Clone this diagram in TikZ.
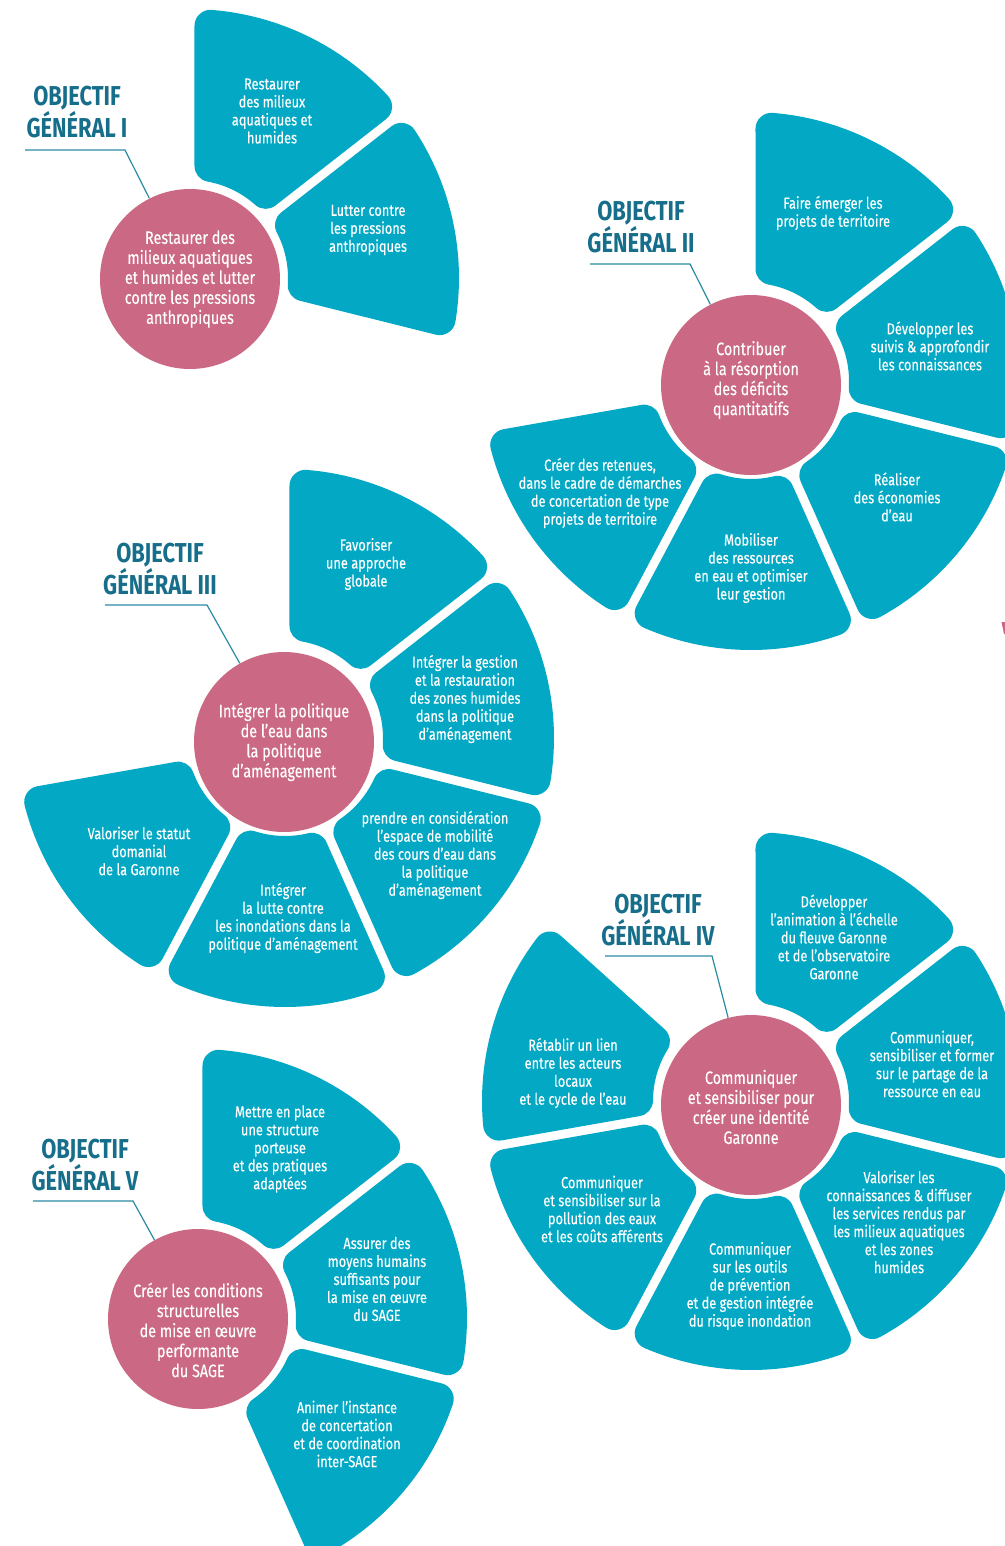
\documentclass[tikz,border=0pt]{standalone}
\usepackage{fontspec}
\setmainfont{Fira Sans}[FakeStretch=0.8,UprightFeatures={FakeBold=0.25}]
\usetikzlibrary{positioning}
\definecolor{petalblue}{RGB}{3,168,196}
\definecolor{discpink}{RGB}{203,104,131}
\definecolor{goalblue}{RGB}{22,110,138}
\definecolor{leaderblue}{RGB}{40,138,163}

% annular petal around a disc: centre, start angle, end angle
\newcommand{\petal}[3]{%
  \pgfmathsetmacro{\rin}{114}%
  \pgfmathsetmacro{\rout}{253}%
  \pgfmathsetmacro{\din}{asin(20.5/\rin)}%
  \pgfmathsetmacro{\dout}{asin(20.5/\rout)}%
  \filldraw[petal,shift={(#1)}] ({#2-\din}:\rin) -- ({#2-\dout}:\rout)
    arc[start angle={#2-\dout}, end angle={#3+\dout}, radius=\rout*0.75pt]
    -- ({#3+\din}:\rin)
    arc[start angle={#3+\din}, end angle={#2-\din}, radius=\rin*0.75pt] -- cycle;
}

\begin{document}
\begin{tikzpicture}[x=0.75pt,y=0.75pt,
  petal/.style={fill=petalblue,draw=petalblue,line width=24pt,line join=round},
  disc/.style={circle,fill=discpink,minimum size=135pt,inner sep=0pt},
  disctext/.style={text=white,align=center,font=\fontsize{13.5}{15}\selectfont},
  leaf/.style={text=white,align=center,font=\fontsize{12}{13.5}\selectfont},
  goal/.style={text=goalblue,align=center,font=\fontsize{20.5}{21}\bfseries},
  leader/.style={leaderblue,line width=0.9pt}]
\useasboundingbox (0,0) rectangle (1005,-1546);
\clip (0,0) rectangle (1005,-1546);

\node[disc] (c1) at (190,-279) {};
\node[disc] (c2) at (751,-385) {};
\node[disc] (c3) at (284,-742) {};
\node[disc] (c4) at (751,-1105) {};
\node[disc] (c5) at (198,-1319) {};

% ring centres of the petals
\coordinate (r1) at (190,-278);
\coordinate (r2) at (751,-381);
\coordinate (r3) at (285,-738);
\coordinate (r4) at (751,-1101);
\coordinate (r5) at (198,-1318);

\foreach \a/\b in {90/38,38/-14}
  \petal{r1}{\a}{\b};
\foreach \a/\b in {90/38,38/-14,-14/-66,-66/-118,-118/-170}
  \petal{r2}{\a}{\b};
\foreach \a/\b in {90/38,38/-14,-14/-66,-66/-118,-118/-170}
  \petal{r3}{\a}{\b};
\foreach \a/\b in {90/38,38/-14,-14/-66,-66/-118,-118/-170,-170/-222}
  \petal{r4}{\a}{\b};
\foreach \a/\b in {90/38,38/-14,-14/-66}
  \petal{r5}{\a}{\b};

\node[disctext] (d1) at (190,-279) {Restaurer des\\milieux aquatiques\\et humides et lutter\\contre les pressions\\anthropiques};
\node[disctext] (d2) at (751,-380) {Contribuer\\à la résorption\\des déficits\\quantitatifs};
\node[disctext] (d3) at (284,-742) {Intégrer la politique\\de l’eau dans\\la politique\\d’aménagement};
\node[disctext] (d4) at (751,-1107) {Communiquer\\et sensibiliser pour\\créer une identité\\Garonne};
\node[disctext] (d5) at (198,-1330) {Créer les conditions\\structurelles\\de mise en œuvre\\performante\\du SAGE};

\node[leaf] (p11) at (272,-111) {Restaurer\\des milieux\\aquatiques et\\humides};
\node[leaf] (p12) at (368,-230) {Lutter contre\\les pressions\\anthropiques};

\node[leaf] (p21) at (833,-213) {Faire émerger les\\projets de territoire};
\node[leaf] (p22) at (930,-346) {Développer les\\suivis \& approfondir\\les connaissances};
\node[leaf] (p23) at (897,-497) {Réaliser\\des économies\\d’eau};
\node[leaf] (p24) at (751,-568) {Mobiliser\\des ressources\\en eau et optimiser\\leur gestion};
\node[leaf] (p25) at (600,-493) {Créer des retenues,\\dans le cadre de démarches\\de concertation de type\\projets de territoire};

\node[leaf] (p31) at (366,-564) {Favoriser\\une approche\\globale};
\node[leaf] (p32) at (465,-699) {Intégrer la gestion\\et la restauration\\des zones humides\\dans la politique\\d’aménagement};
\node[leaf] (p33) at (435,-855) {prendre en considération\\l’espace de mobilité\\des cours d’eau dans\\la politique\\d’aménagement};
\node[leaf] (p34) at (283,-918) {Intégrer\\la lutte contre\\les inondations dans la\\politique d’aménagement};
\node[leaf] (p35) at (139,-851) {Valoriser le statut\\domanial\\de la Garonne};

\node[leaf] (p41) at (834,-937) {Développer\\l’animation à l’échelle\\du fleuve Garonne\\et de l’observatoire\\Garonne};
\node[leaf] (p42) at (932,-1064) {Communiquer,\\sensibiliser et former\\sur le partage de la\\ressource en eau};
\node[leaf] (p43) at (899,-1222) {Valoriser les\\connaissances \& diffuser\\les services rendus par\\les milieux aquatiques\\et les zones\\humides};
\node[leaf] (p44) at (750,-1286) {Communiquer\\sur les outils\\de prévention\\et de gestion intégrée\\du risque inondation};
\node[leaf] (p45) at (602,-1209) {Communiquer\\et sensibiliser sur la\\pollution des eaux\\et les coûts afférents};
\node[leaf] (p46) at (573,-1073) {Rétablir un lien\\entre les acteurs\\locaux\\et le cycle de l’eau};

\node[leaf] (p51) at (280,-1149) {Mettre en place\\une structure\\porteuse\\et des pratiques\\adaptées};
\node[leaf] (p52) at (377,-1279) {Assurer des\\moyens humains\\suffisants pour\\la mise en œuvre\\du SAGE};
\node[leaf] (p53) at (347,-1434) {Animer l’instance\\de concertation\\et de coordination\\inter-SAGE};

\node[goal] (g1) at (77,-112) {OBJECTIF\\GÉNÉRAL I};
\node[goal] (g2) at (641,-227) {OBJECTIF\\GÉNÉRAL II};
\node[goal] (g3) at (160,-569) {OBJECTIF\\GÉNÉRAL III};
\node[goal] (g4) at (658,-920) {OBJECTIF\\GÉNÉRAL IV};
\node[goal] (g5) at (85,-1165) {OBJECTIF\\GÉNÉRAL V};

\coordinate (u1) at (25,-150);  \coordinate (k1) at (125,-150);
\coordinate (u2) at (590,-264); \coordinate (k2) at (690,-264);
\coordinate (u3) at (105,-605); \coordinate (k3) at (207,-605);
\coordinate (u4) at (605,-956); \coordinate (k4) at (712,-956);
\coordinate (u5) at (33,-1201); \coordinate (k5) at (133,-1201);
\foreach \i in {1,...,5}
  \draw[leader] (u\i) -- (k\i) -- (c\i);

\fill[discpink] (1001.5,-622) -- (1005,-622) -- (1005,-634) -- (1004,-634) -- cycle;
\end{tikzpicture}
\end{document}
